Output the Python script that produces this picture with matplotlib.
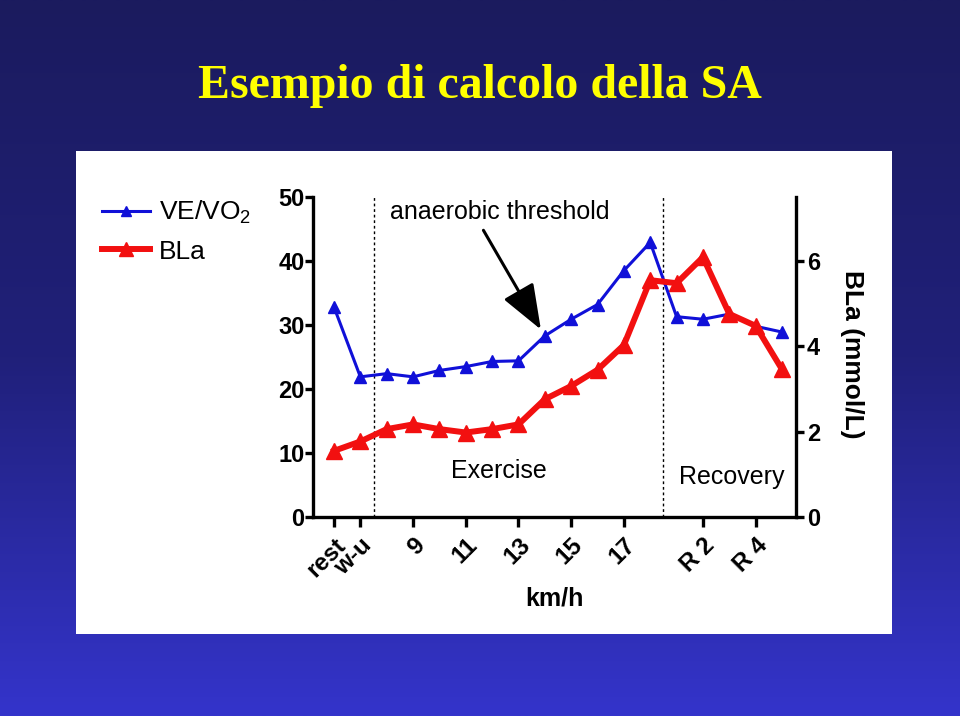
import numpy as np
import matplotlib
matplotlib.use("Agg")
import matplotlib.pyplot as plt
from matplotlib.lines import Line2D
from matplotlib.patches import Rectangle
from matplotlib.colors import LinearSegmentedColormap

plt.rcParams['font.family'] = ['Liberation Sans', 'DejaVu Sans']
plt.rcParams['mathtext.fontset'] = 'custom'
plt.rcParams['mathtext.rm'] = 'Liberation Sans'

# ---- data ----
x_pos = [0, 1, 2, 3, 4, 5, 6, 7, 8, 9, 10, 11, 12, 13, 14, 15, 16, 17]
ve_vo2 = [32.8, 21.9, 22.4, 21.9, 22.9, 23.5, 24.3, 24.4, 28.3, 30.9,
          33.2, 38.5, 42.9, 31.3, 30.9, 31.7, 29.8, 28.9]
bla = [1.55, 1.77, 2.06, 2.17, 2.06, 1.98, 2.06, 2.17, 2.76, 3.07,
       3.45, 4.03, 5.55, 5.48, 6.09, 4.76, 4.48, 3.46]
xtick_pos = [0, 1, 3, 5, 7, 9, 11, 14, 16]
xtick_labels = ['rest', 'w-u', '9', '11', '13', '15', '17', 'R 2', 'R 4']
left_ticks = [0, 10, 20, 30, 40, 50]
right_ticks = [0, 2, 4, 6]
phase_bounds = [1.5, 12.5]

W, H = 960, 716
fig = plt.figure(figsize=(W / 100, H / 100), dpi=100)

# background gradient
bg = fig.add_axes([0, 0, 1, 1], zorder=0)
cmap = LinearSegmentedColormap.from_list('bg', ['#1b1b5e', '#20207a', '#3434cb'])
grad = np.linspace(0, 1, 256).reshape(-1, 1)
bg.imshow(grad, aspect='auto', cmap=cmap, extent=[0, 1, 0, 1], origin='upper')
bg.set_xlim(0, 1); bg.set_ylim(0, 1)
bg.axis('off')
bg.add_patch(Rectangle((76 / W, 1 - 634 / H), (892 - 76) / W, (634 - 151) / H,
                       facecolor='white', edgecolor='none', transform=bg.transAxes))

fig.text(480 / W, 1 - 98 / H, 'Esempio di calcolo della SA', color='#ffff00',
         family='Liberation Serif', weight='bold', fontsize=34.5,
         ha='center', va='baseline')

unit = (782 - 334) / 17.0
xmin = -(334 - 313) / unit
xmax = 17 + (796 - 782) / unit
ax = fig.add_axes([313 / W, 1 - 517 / H, (796 - 313) / W, (517 - 197) / H], zorder=2)
ax.set_facecolor('none')
ax.set_xlim(xmin, xmax)
ax.set_ylim(0, 50)

lw_sp = 2.4
for s in ['top', 'right']:
    ax.spines[s].set_visible(False)
for s in ['left', 'bottom']:
    ax.spines[s].set_linewidth(lw_sp)

ax.plot(x_pos, ve_vo2, color='#1010d8', lw=2.2, marker='^', ms=8, zorder=3, clip_on=False)

for b in phase_bounds:
    ax.plot([b, b], [0, 50], color='black', lw=1.0, ls=(0, (2, 2)), zorder=2)

ax.set_yticks(left_ticks)
ax.set_xticks(xtick_pos)
ax.set_xticklabels(xtick_labels, rotation=45, ha='right', rotation_mode='anchor',
                   fontsize=17.5, fontweight='bold')
ax.tick_params(axis='y', direction='out', length=6, width=lw_sp, labelsize=17, pad=0)
ax.tick_params(axis='x', direction='out', length=7, width=lw_sp, pad=5)
for lab in ax.get_yticklabels():
    lab.set_fontweight('bold')

ax.set_xlabel('km/h', fontsize=18, fontweight='bold', labelpad=4)

ax.text(2.13, 47.6, 'anaerobic threshold', fontsize=18, ha='left', va='center')
ax.text(6.25, 7.2, 'Exercise', fontsize=18, ha='center', va='center')
ax.text(15.1, 6.3, 'Recovery', fontsize=18, ha='center', va='center')
ax.annotate('', xy=(7.85, 29.3), xytext=(5.67, 44.8),
            arrowprops=dict(arrowstyle='-|>,head_length=1.0,head_width=0.38',
                            lw=2.2, color='black', mutation_scale=28,
                            shrinkA=0, shrinkB=0))

ax2 = ax.twinx()
ax2.set_ylim(0, 7.5)
for s in ['top', 'left', 'bottom']:
    ax2.spines[s].set_visible(False)
ax2.spines['right'].set_linewidth(lw_sp)
ax2.plot(x_pos, bla, color='#f21010', lw=4.3, marker='^', ms=11, zorder=4, clip_on=False)
ax2.set_yticks(right_ticks)
ax2.tick_params(axis='y', direction='out', length=6, width=lw_sp, labelsize=17, pad=2)
for lab in ax2.get_yticklabels():
    lab.set_fontweight('bold')

fig.text(852 / W, 1 - 354 / H, 'BLa (mmol/L)', rotation=-90, fontsize=19,
         fontweight='bold', ha='center', va='center')

handles = [Line2D([], [], color='#1010d8', lw=2.2, marker='^', ms=7),
           Line2D([], [], color='#f21010', lw=4.3, marker='^', ms=10)]
fig.legend(handles, ['VE/VO$_\\mathregular{2}$', 'BLa'], loc='upper left',
           bbox_to_anchor=(102 / W, 1 - 199 / H), frameon=False, fontsize=19,
           handlelength=1.8, handletextpad=0.35, labelspacing=0.5, borderpad=0,
           borderaxespad=0)

fig.savefig('out.png', dpi=100)
